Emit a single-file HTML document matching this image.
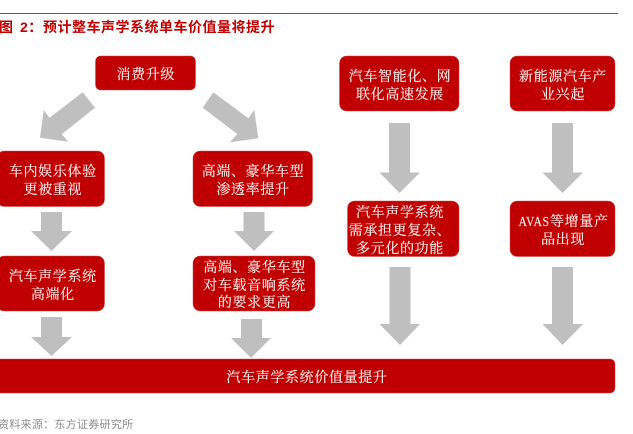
<!DOCTYPE html>
<html>
<head>
<meta charset="utf-8">
<style>
html,body{margin:0;padding:0;background:#fff;width:633px;height:434px;overflow:hidden}
svg{display:block}
.b{fill:#c00000;stroke:#d24a4a;stroke-width:.5}
.a{fill:#bfbfbf}
.t{font-family:"Liberation Serif","Noto Serif CJK SC",serif;font-size:14px;letter-spacing:.65px;fill:#fbeeee;stroke:#fbeeee;stroke-width:.15px;text-anchor:middle}
.l{text-anchor:start}
.h{font-family:"Liberation Sans","Noto Sans CJK SC",sans-serif;font-size:14px;font-weight:bold;fill:#c00000;letter-spacing:.5px}
.s{font-family:"Liberation Sans","Noto Sans CJK SC",sans-serif;font-size:11px;fill:#8c8c8c;letter-spacing:.28px}
</style>
</head>
<body>
<svg width="633" height="434" viewBox="0 0 633 434" xmlns="http://www.w3.org/2000/svg">
<rect x="0" y="13" width="618" height="1" fill="#c23a3a"/>
<text class="h" x="-1" y="32">图</text>
<text class="h" x="20" y="32">2：</text>
<text class="h" x="43" y="32">预计整车声学系统单车价值量将提升</text>

<rect class="b" x="95.5" y="56" width="100" height="34" rx="5"/>
<rect class="b" x="-3" y="151" width="107.5" height="55.5" rx="7"/>
<rect class="b" x="193" y="151" width="119.5" height="55.5" rx="7"/>
<rect class="b" x="-3" y="256" width="107.5" height="55" rx="7"/>
<rect class="b" x="193" y="256" width="122" height="55" rx="7"/>
<rect class="b" x="339.5" y="56" width="119.5" height="55" rx="7"/>
<rect class="b" x="510" y="56" width="105" height="55" rx="7"/>
<rect class="b" x="347.5" y="201" width="111.5" height="55.5" rx="7"/>
<rect class="b" x="510" y="201" width="105" height="55.5" rx="7"/>
<rect class="b" x="-6" y="359" width="621" height="34" rx="5"/>

<polygon class="a" points="82.7,92.3 95,107.7 61.7,134.3 68.3,141.7 40,137.7 43.8,110 49.5,117.7"/>
<polygon class="a" points="213.3,92.3 202.7,107.7 237.3,134 230,142.3 258.3,138.3 254.3,110 248.3,118.3"/>
<polygon class="a" points="41,212 62,212 62,231 72,231 51.5,251 31,231 41,231"/>
<polygon class="a" points="243.5,212 264.5,212 264.5,231 274,231 254,251 234,231 243.5,231"/>
<polygon class="a" points="41,317 62,317 62,337 72,337 51.5,356 31,337 41,337"/>
<polygon class="a" points="241,319 262,319 262,338 271,338 251,358 231,338 241,338"/>
<polygon class="a" points="389,123 410,123 410,172.5 420,172.5 399.5,193 379.5,172.5 389,172.5"/>
<polygon class="a" points="552,123 573,123 573,172.5 583,172.5 562.5,193 542.5,172.5 552,172.5"/>
<polygon class="a" points="389.5,267 410.5,267 410.5,324 420,324 400,345 379.5,324 389.5,324"/>
<polygon class="a" points="552,267 573,267 573,324 583,324 562.5,345 542.5,324 552,324"/>

<text class="t" x="145.8" y="79">消费升级</text>
<text class="t" x="52.8" y="176">车内娱乐体验</text>
<text class="t" x="52.8" y="194">更被重视</text>
<text class="t" x="253" y="176">高端、豪华车型</text>
<text class="t" x="253" y="194">渗透率提升</text>
<text class="t" x="52.8" y="281">汽车声学系统</text>
<text class="t" x="52.8" y="299">高端化</text>
<text class="t" x="254.5" y="272">高端、豪华车型</text>
<text class="t" x="254.5" y="290">对车载音响系统</text>
<text class="t" x="254.5" y="307">的要求更高</text>
<text class="t" x="400" y="81">汽车智能化、网</text>
<text class="t" x="400" y="99">联化高速发展</text>
<text class="t" x="563" y="81">新能源汽车产</text>
<text class="t" x="563" y="99">业兴起</text>
<text class="t" x="400" y="217">汽车声学系统</text>
<text class="t" x="400" y="235">需承担更复杂、</text>
<text class="t" x="400" y="253">多元化的功能</text>
<text class="t l" x="518.5" y="226" textLength="31" lengthAdjust="spacingAndGlyphs">AVAS</text>
<text class="t l" x="550" y="226">等增量产</text>
<text class="t" x="563" y="244">品出现</text>
<text class="t" x="307" y="382">汽车声学系统价值量提升</text>

<text class="s" x="-2" y="428">资料来源：东方证券研究所</text>
</svg>
</body>
</html>
